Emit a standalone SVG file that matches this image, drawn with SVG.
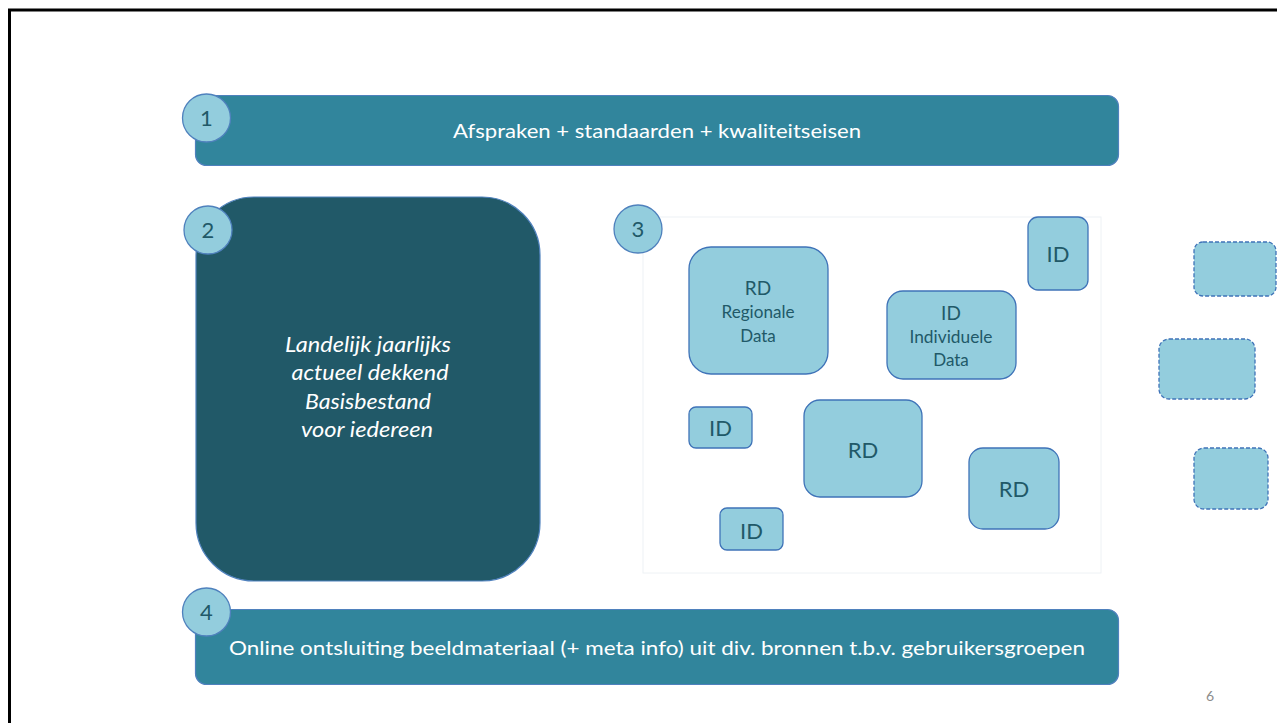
<svg xmlns="http://www.w3.org/2000/svg" width="1277" height="723" viewBox="0 0 1277 723">
<style>
.bar{fill:#31859c;stroke:#4f81bd;stroke-width:1.2}
.big{fill:#215968;stroke:#4f81bd;stroke-width:1.2}
.lb{fill:#93cddd;stroke:#3f73b8;stroke-width:1.3}
.dash{fill:#93cddd;stroke:#3f73b8;stroke-width:1.3;stroke-dasharray:4 2}
.num{fill:#93cddd;stroke:#4f81bd;stroke-width:1.3}
.t{font-family:Lato,"Open Sans","Liberation Sans",sans-serif;text-anchor:middle}
.w{fill:#ffffff;font-size:20px}
.i{fill:#ffffff;font-size:21px;font-style:italic}
.d{fill:#215968;font-size:22px}
.m{fill:#215968;font-size:19px}
.s{fill:#215968;font-size:17px}
</style>
<rect width="1277" height="723" fill="#ffffff"/>
<path d="M9.5 723 V10 H1277" fill="none" stroke="#000000" stroke-width="3"/>

<g id="node1">
<rect class="bar" x="195.5" y="95.5" width="923" height="70" rx="11"/>
<text class="t w" x="657" y="138" textLength="408" lengthAdjust="spacingAndGlyphs">Afspraken + standaarden + kwaliteitseisen</text>
<circle class="num" cx="206.5" cy="118" r="24"/>
<text class="t d" x="206.5" y="126">1</text>
</g>

<g id="node2">
<rect class="big" x="196" y="197" width="344" height="384" rx="58"/>
<text class="t i" x="368" y="352" textLength="166" lengthAdjust="spacingAndGlyphs">Landelijk jaarlijks</text>
<text class="t i" x="370" y="380" textLength="157" lengthAdjust="spacingAndGlyphs">actueel dekkend</text>
<text class="t i" x="368" y="409" textLength="126" lengthAdjust="spacingAndGlyphs">Basisbestand</text>
<text class="t i" x="367" y="437" textLength="132" lengthAdjust="spacingAndGlyphs">voor iedereen</text>
<circle class="num" cx="208" cy="230" r="24"/>
<text class="t d" x="208" y="238">2</text>
</g>

<g id="node3">
<rect x="643" y="217" width="458" height="356" fill="none" stroke="#eef2f5" stroke-width="1"/>
<circle class="num" cx="638" cy="229" r="24"/>
<text class="t d" x="638" y="237">3</text>
<g id="rd1">
<rect class="lb" x="689" y="247" width="139" height="127" rx="22"/>
<text class="t m" x="758" y="295">RD</text>
<text class="t s" x="758" y="318" textLength="73" lengthAdjust="spacingAndGlyphs">Regionale</text>
<text class="t s" x="758" y="342">Data</text>
</g>
<g id="id1">
<rect class="lb" x="887" y="291" width="129" height="88" rx="16"/>
<text class="t m" x="951" y="320">ID</text>
<text class="t s" x="951" y="343" textLength="83" lengthAdjust="spacingAndGlyphs">Individuele</text>
<text class="t s" x="951" y="366">Data</text>
</g>
<g id="id2">
<rect class="lb" x="1028" y="217" width="60" height="73" rx="10"/>
<text class="t d" x="1058" y="262">ID</text>
</g>
<g id="id3">
<rect class="lb" x="689" y="407" width="63" height="41" rx="7"/>
<text class="t d" x="720.5" y="436">ID</text>
</g>
<g id="rd2">
<rect class="lb" x="804" y="400" width="118" height="97" rx="16"/>
<text class="t d" x="863" y="458">RD</text>
</g>
<g id="rd3">
<rect class="lb" x="969" y="448" width="90" height="81" rx="14"/>
<text class="t d" x="1014" y="497">RD</text>
</g>
<g id="id4">
<rect class="lb" x="720" y="508" width="63" height="42" rx="7"/>
<text class="t d" x="751.5" y="539">ID</text>
</g>
</g>

<g id="dashed">
<rect class="dash" x="1194" y="242" width="82" height="54" rx="9"/>
<rect class="dash" x="1159" y="339" width="96" height="60" rx="10"/>
<rect class="dash" x="1194" y="448" width="74" height="61" rx="10"/>
</g>

<g id="node4">
<rect class="bar" x="195.5" y="609.5" width="923" height="75" rx="11"/>
<text class="t w" x="657" y="655" textLength="856" lengthAdjust="spacingAndGlyphs">Online ontsluiting beeldmateriaal (+ meta info) uit div. bronnen t.b.v. gebruikersgroepen</text>
<circle class="num" cx="206.5" cy="612" r="24"/>
<text class="t d" x="206.5" y="620">4</text>
</g>

<g id="connectors"></g>

<text class="t" x="1210" y="701" font-size="14" fill="#8c8c8c">6</text>
</svg>
